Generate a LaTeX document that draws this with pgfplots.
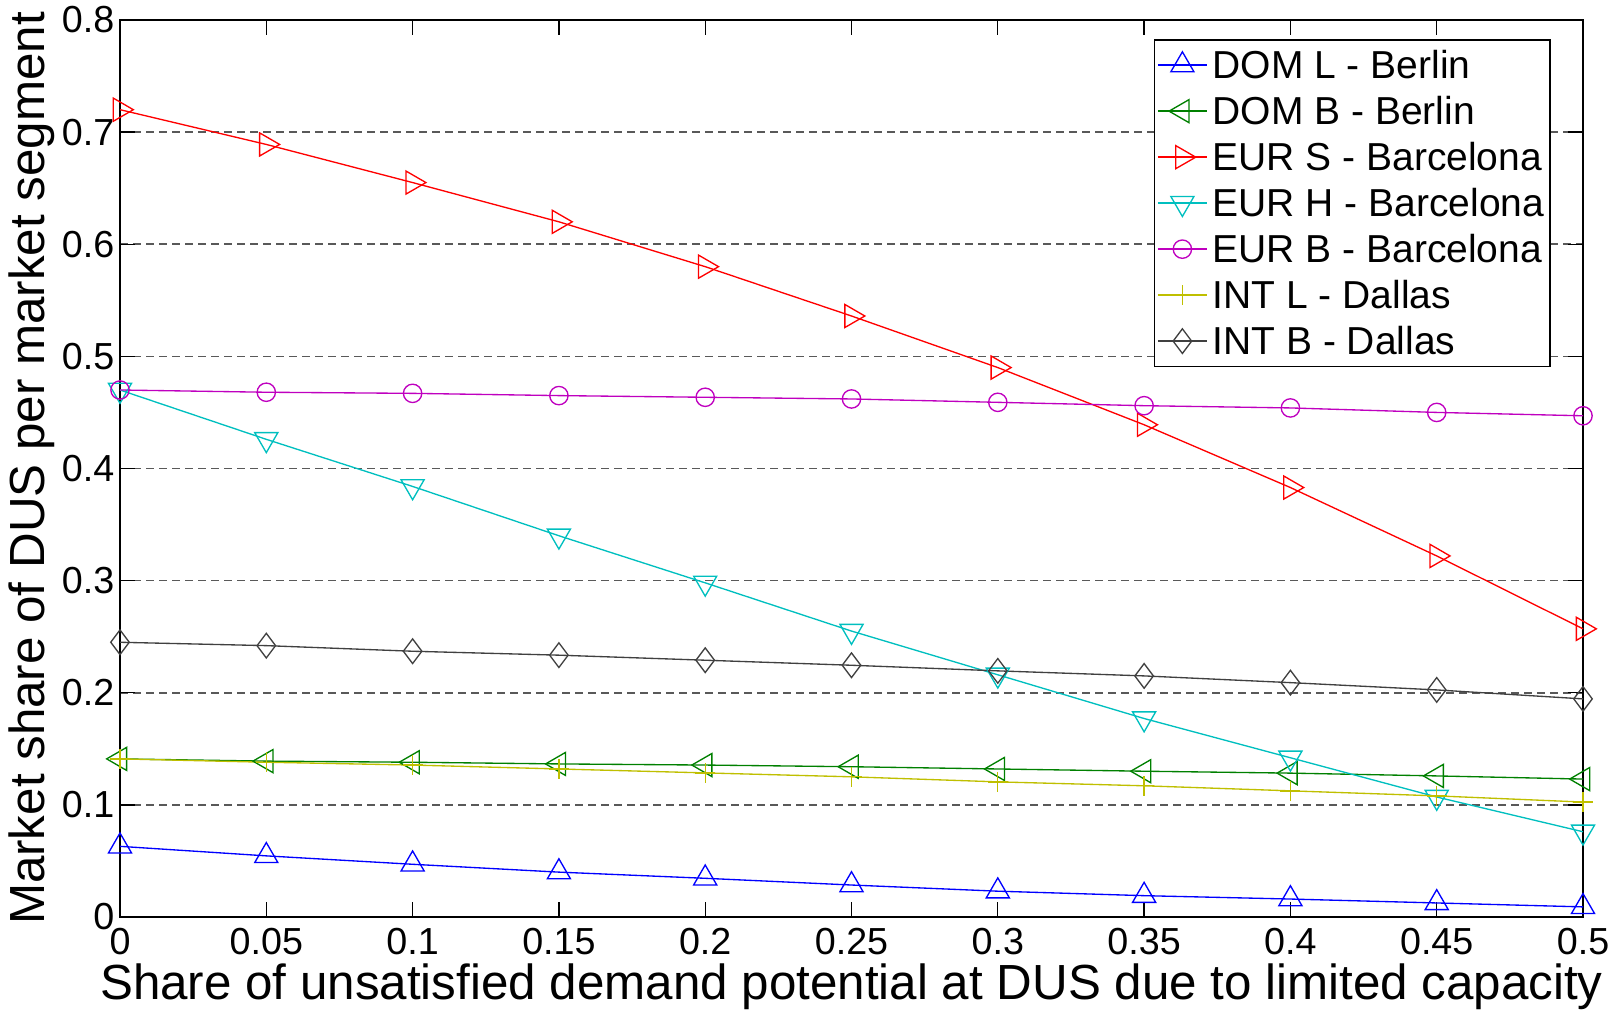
\documentclass[border=0pt]{standalone}
\usepackage{pgfplots}
\pgfplotsset{compat=1.18}
\usepackage{fontspec}
\setmainfont{Liberation Sans}
\definecolor{mblue}{rgb}{0,0,1}
\definecolor{mgreen}{rgb}{0,0.5,0}
\definecolor{mred}{rgb}{1,0,0}
\definecolor{mcyan}{rgb}{0,0.75,0.75}
\definecolor{mmag}{rgb}{0.75,0,0.75}
\definecolor{myel}{rgb}{0.75,0.75,0}
\definecolor{mgray}{rgb}{0.25,0.25,0.25}
\begin{document}
\begin{tikzpicture}
\begin{axis}[
  name=ax,
  scale only axis,
  width=438.9pt, height=269.1pt,
  xmin=0, xmax=0.5, ymin=0, ymax=0.8,
  xtick={0,0.05,0.1,0.15,0.2,0.25,0.3,0.35,0.4,0.45,0.5},
  xticklabels={0,0.05,0.1,0.15,0.2,0.25,0.3,0.35,0.4,0.45,0.5},
  ytick={0,0.1,0.2,0.3,0.4,0.5,0.6,0.7,0.8},
  yticklabels={0,0.1,0.2,0.3,0.4,0.5,0.6,0.7,0.8},
  tick align=inside,
  major tick length=4.4pt,
  tick style={black, line width=0.4pt},
  axis line style={black, line width=0.5pt},
  ymajorgrids,
  grid style={black!65, line width=0.5pt, dash pattern=on 2.4pt off 1.5pt},
  xticklabel style={font=\fontsize{11.3}{13}\selectfont, anchor=base, yshift=-11.4pt},
  yticklabel style={font=\fontsize{11.3}{13}\selectfont, anchor=east, inner xsep=1.5pt},
  xlabel={Share of unsatisfied demand potential at DUS due to limited capacity},
  ylabel={Market share of DUS per market segment},
  xlabel style={font=\fontsize{14.8}{17}\selectfont, at={(rel axis cs:0.5,0)}, anchor=base, yshift=-24.9pt},
  ylabel style={font=\fontsize{14.8}{17}\selectfont, at={(rel axis cs:0,0.5)}, anchor=base, yshift=22.5pt},
  clip=false,
  every axis plot/.append style={line width=0.4pt},
  legend cell align=left,
  legend style={at={(rel axis cs:1,1)}, anchor=north east, xshift=-9.6pt, yshift=-5.7pt,
    draw=black, line width=0.5pt, fill=white, inner xsep=0.8pt, inner ysep=0.7pt,
    row sep=0pt, column sep=0pt,
    font=\fontsize{11.7}{13}\selectfont,
    nodes={inner xsep=1pt, inner ysep=1.5pt, text height=9.4pt, text depth=1.4pt}},
  legend image code/.code={\path (15.6pt,0pt); \draw[mark repeat=2, mark phase=2] plot coordinates {(0.4pt,0pt) (7.75pt,0pt) (15.1pt,0pt)};},
]
\addplot[mblue, mark=triangle, mark size=4pt, mark options={solid}] coordinates {
(0,0.063) (0.05,0.0545) (0.1,0.047) (0.15,0.040) (0.2,0.0345) (0.25,0.0285)
(0.3,0.023) (0.35,0.019) (0.4,0.016) (0.45,0.0125) (0.5,0.009)};
\addlegendentry{DOM L - Berlin}
\addplot[mgreen, mark=triangle, mark size=4pt, mark options={solid, rotate=90}] coordinates {
(0,0.141) (0.05,0.139) (0.1,0.138) (0.15,0.1365) (0.2,0.1355) (0.25,0.134)
(0.3,0.132) (0.35,0.130) (0.4,0.1283) (0.45,0.1258) (0.5,0.123)};
\addlegendentry{DOM B - Berlin}
\addplot[mred, mark=triangle, mark size=4pt, mark options={solid, rotate=-90}] coordinates {
(0,0.720) (0.05,0.689) (0.1,0.655) (0.15,0.620) (0.2,0.580) (0.25,0.536)
(0.3,0.490) (0.35,0.439) (0.4,0.383) (0.45,0.322) (0.5,0.257)};
\addlegendentry{EUR S - Barcelona}
\addplot[mcyan, mark=triangle, mark size=4pt, mark options={solid, rotate=180}] coordinates {
(0,0.470) (0.05,0.426) (0.1,0.384) (0.15,0.340) (0.2,0.298) (0.25,0.255)
(0.3,0.216) (0.35,0.177) (0.4,0.142) (0.45,0.107) (0.5,0.076)};
\addlegendentry{EUR H - Barcelona}
\addplot[mmag, mark=o, mark size=2.75pt, mark options={solid}] coordinates {
(0,0.470) (0.05,0.468) (0.1,0.467) (0.15,0.465) (0.2,0.4635) (0.25,0.462)
(0.3,0.459) (0.35,0.456) (0.4,0.454) (0.45,0.450) (0.5,0.447)};
\addlegendentry{EUR B - Barcelona}
\addplot[myel, mark=+, mark size=3pt, mark options={solid}] coordinates {
(0,0.141) (0.05,0.138) (0.1,0.1355) (0.15,0.132) (0.2,0.1285) (0.25,0.125)
(0.3,0.1205) (0.35,0.117) (0.4,0.1125) (0.45,0.108) (0.5,0.1025)};
\addlegendentry{INT L - Dallas}
\addplot[mgray, mark=diamond, mark size=3.7pt, mark options={solid}] coordinates {
(0,0.245) (0.05,0.242) (0.1,0.237) (0.15,0.2335) (0.2,0.229) (0.25,0.2245)
(0.3,0.2195) (0.35,0.215) (0.4,0.209) (0.45,0.2025) (0.5,0.1945)};
\addlegendentry{INT B - Dallas}
\end{axis}
\pgfresetboundingbox
\path[use as bounding box] ([shift={(-36pt,-30pt)}]ax.south west) rectangle ([shift={(10.8pt,6pt)}]ax.north east);
\end{tikzpicture}
\end{document}
